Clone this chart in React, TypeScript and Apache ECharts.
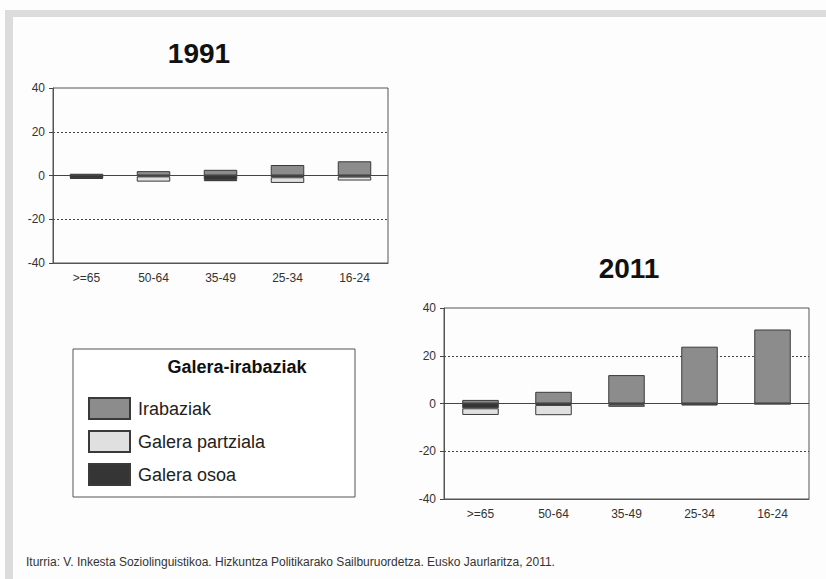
import React, { useEffect, useRef } from "react";
import * as echarts from "echarts";

const categories = [">=65", "50-64", "35-49", "25-34", "16-24"];
const yTicks = [-40, -20, 0, 20, 40];

const irabaziak1991 = [0.8, 2, 2.6, 4.8, 6.5];
const osoa1991 = [-1.2, -0.4, -2, -0.8, -0.5];
const partziala1991 = [-0.3, -2.4, -0.6, -2.6, -1.8];

const irabaziak2011 = [1.5, 4.9, 11.9, 23.8, 31];
const osoa2011 = [-2, -0.6, -0.5, -0.3, -0.1];
const partziala2011 = [-2.8, -4.3, -0.9, -0.5, -0.1];

const titles = ["1991", "2011"];
const legendTitle = "Galera-irabaziak";
const seriesNames = ["Irabaziak", "Galera partziala", "Galera osoa"];
const footer =
  "Iturria: V. Inkesta Soziolinguistikoa. Hizkuntza Politikarako Sailburuordetza. Eusko Jaurlaritza, 2011.";

const FONT = "'Liberation Sans', Arial, sans-serif";
const NARROW = "'Liberation Sans Narrow', 'Liberation Sans', Arial, sans-serif";
const COLORS: Record<string, string> = {
  Irabaziak: "#8c8c8c",
  "Galera partziala": "#e0e0e0",
  "Galera osoa": "#353535",
};

function makeAxes(gridIndex: number) {
  return {
    x: {
      type: "category",
      gridIndex,
      data: categories,
      position: "bottom",
      axisLine: { onZero: false, lineStyle: { color: "#555", width: 1 } },
      axisTick: { alignWithLabel: true, length: 4, lineStyle: { color: "#444" } },
      axisLabel: { color: "#333", fontSize: 12, fontFamily: FONT, margin: 9 },
      splitLine: { show: false },
    },
    y: {
      type: "value",
      gridIndex,
      min: yTicks[0],
      max: yTicks[yTicks.length - 1],
      interval: 20,
      axisLine: { show: true, lineStyle: { color: "#555", width: 1 } },
      axisTick: { show: true, length: 4, lineStyle: { color: "#444" } },
      axisLabel: { color: "#333", fontSize: 12, fontFamily: FONT, margin: 8 },
      splitLine: {
        show: true,
        showMinLine: false,
        showMaxLine: false,
        lineStyle: { color: "#444", width: 1, type: [2, 2] },
      },
    },
  };
}

function makeSeries(idx: number, ira: number[], osoa: number[], part: number[]) {
  const base = {
    type: "bar",
    xAxisIndex: idx,
    yAxisIndex: idx,
    stack: "s" + idx,
    barWidth: "50%",
  };
  const border = { borderColor: "#3a3a3a", borderWidth: 1 };
  return [
    {
      ...base,
      name: "Irabaziak",
      data: ira,
      itemStyle: { color: COLORS["Irabaziak"], ...border },
      markLine: {
        silent: true,
        symbol: "none",
        label: { show: false },
        lineStyle: { color: "#444", width: 1, type: "solid" },
        data: [{ yAxis: 0 }],
      },
    },
    {
      ...base,
      name: "Galera osoa",
      data: osoa,
      itemStyle: { color: COLORS["Galera osoa"], ...border },
    },
    {
      ...base,
      name: "Galera partziala",
      data: part,
      itemStyle: { color: COLORS["Galera partziala"], ...border },
    },
  ];
}

export default function App() {
  const ref = useRef<HTMLDivElement>(null);
  useEffect(() => {
    if (!ref.current) return;
    const chart = echarts.init(ref.current, null, { renderer: "svg" });
    const a1 = makeAxes(0);
    const a2 = makeAxes(1);
    chart.setOption({
      animation: false,
      backgroundColor: "#fdfdfd",
      textStyle: { fontFamily: FONT },
      title: [
        {
          text: titles[0],
          left: 194,
          top: 34,
          textAlign: "center",
          textStyle: { fontSize: 28, fontWeight: "bold", color: "#111", fontFamily: FONT },
        },
        {
          text: titles[1],
          left: 624,
          top: 249,
          textAlign: "center",
          textStyle: { fontSize: 28, fontWeight: "bold", color: "#111", fontFamily: FONT },
        },
      ],
      grid: [
        {
          left: 53,
          top: 88,
          width: 335,
          height: 175,
          show: true,
          borderColor: "#555",
          borderWidth: 1,
          backgroundColor: "transparent",
        },
        {
          left: 444,
          top: 308,
          width: 365,
          height: 191,
          show: true,
          borderColor: "#555",
          borderWidth: 1,
          backgroundColor: "transparent",
        },
      ],
      xAxis: [a1.x, a2.x],
      yAxis: [a1.y, a2.y],
      legend: {
        data: seriesNames,
        orient: "vertical",
        left: 88,
        top: 397,
        padding: 0,
        itemWidth: 41,
        itemHeight: 21,
        itemGap: 10,
        icon: "rect",
        selectedMode: false,
        textStyle: {
          fontSize: 18,
          color: "#222",
          fontFamily: FONT,
          lineHeight: 21,
          padding: [0, 0, 0, 3],
        },
      },
      graphic: [
        { type: "rect", z: -10, shape: { x: 5, y: 10, width: 821, height: 7 }, style: { fill: "#dcdcdc" } },
        { type: "rect", z: -10, shape: { x: 5, y: 10, width: 8, height: 569 }, style: { fill: "#dcdcdc" } },
        {
          type: "rect",
          z: -5,
          shape: { x: 73, y: 349, width: 282, height: 148 },
          style: { fill: "#ffffff", stroke: "#555", lineWidth: 1 },
        },
        {
          type: "text",
          x: 237,
          y: 367,
          style: {
            text: legendTitle,
            fontSize: 18,
            fontWeight: "bold",
            fontFamily: FONT,
            fill: "#111",
            align: "center",
            verticalAlign: "middle",
          },
        },
        {
          type: "text",
          x: 26,
          y: 562,
          style: {
            text: footer,
            fontSize: 12,
            fontFamily: NARROW,
            fill: "#333",
            align: "left",
            verticalAlign: "middle",
          },
        },
      ],
      series: [
        ...makeSeries(0, irabaziak1991, osoa1991, partziala1991),
        ...makeSeries(1, irabaziak2011, osoa2011, partziala2011),
      ],
    });
    return () => chart.dispose();
  }, []);
  return (
    <div
      ref={ref}
      style={{ position: "fixed", left: 0, top: 0, width: 826, height: 579 }}
    />
  );
}
